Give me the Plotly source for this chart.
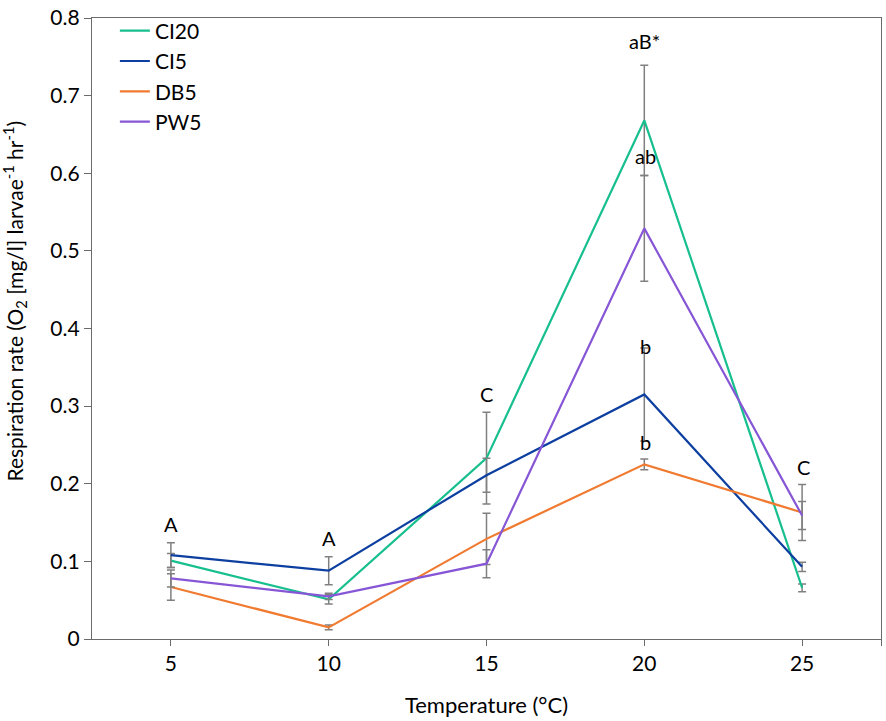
import plotly.graph_objects as go

temperature = [5, 10, 15, 20, 25]

ci20 = [0.101, 0.051, 0.233, 0.668, 0.066]
ci20_err = [0.009, 0.006, 0.059, 0.071, 0.005]

ci5 = [0.108, 0.088, 0.211, 0.315, 0.093]
ci5_err = [0.016, 0.018, 0.022, 0.060, 0.006]

db5 = [0.067, 0.015, 0.129, 0.225, 0.163]
db5_err = [0.017, 0.003, 0.033, 0.007, 0.036]

pw5 = [0.078, 0.055, 0.097, 0.529, 0.159]
pw5_err = [0.011, 0.004, 0.018, 0.068, 0.018]

series_names = ["CI20", "CI5", "DB5", "PW5"]
series_vals = [ci20, ci5, db5, pw5]
series_errs = [ci20_err, ci5_err, db5_err, pw5_err]
series_colors = ["#17BF8E", "#0D3FA0", "#F07A30", "#8656D6"]

y_ticks = [0, 0.1, 0.2, 0.3, 0.4, 0.5, 0.6, 0.7, 0.8]
y_tick_labels = ["0", "0.1", "0.2", "0.3", "0.4", "0.5", "0.6", "0.7", "0.8"]

# significance letters: (x, y, text)
sig_labels = [
    (5, 0.148, "A"),
    (10, 0.130, "A"),
    (15, 0.315, "C"),
    (20, 0.770, "aB*"),
    (20.05, 0.622, "ab"),
    (20.05, 0.378, "b"),
    (20.05, 0.254, "b"),
    (25.05, 0.222, "C"),
]

FONT = "Lato, Carlito, 'Open Sans', sans-serif"

fig = go.Figure()
for name, vals, errs, col in zip(series_names, series_vals, series_errs, series_colors):
    fig.add_trace(go.Scatter(
        x=temperature, y=vals, name=name, mode="lines",
        line=dict(color=col, width=2.2),
        error_y=dict(type="data", array=errs, visible=True,
                     color="#808080", thickness=1.5, width=4),
    ))

for x, y, t in sig_labels:
    fig.add_annotation(x=x, y=y, text=t, showarrow=False,
                       font=dict(size=20, color="black", family=FONT),
                       xanchor="center", yanchor="middle")

# y-axis title as rotated annotation
fig.add_annotation(
    xref="paper", yref="paper", x=-0.0985, y=0.25,
    xanchor="center", yanchor="bottom", textangle=-90, showarrow=False,
    text="Respiration rate (O<sub>2</sub> [mg/l] larvae<sup>-1</sup> hr<sup>-1</sup>)",
    font=dict(size=21, family=FONT, color="black"),
)

axis_col = "#6b6b6b"
fig.update_layout(
    width=886, height=721,
    paper_bgcolor="white", plot_bgcolor="white",
    margin=dict(l=92, r=4, t=12, b=82),
    font=dict(family=FONT, size=20, color="black"),
    showlegend=True,
    legend=dict(x=0.029, y=1.012, xanchor="left", yanchor="top",
                bgcolor="rgba(0,0,0,0)", font=dict(size=21, family=FONT),
                itemwidth=30, tracegroupgap=0),
    xaxis=dict(
        range=[2.5, 27.5],
        tickvals=temperature + [27.5],
        ticktext=[str(t) for t in temperature] + [""],
        ticks="outside", ticklen=6, tickcolor=axis_col, tickwidth=1.3,
        showline=True, linecolor=axis_col, linewidth=1.3, mirror=True,
        showgrid=False, zeroline=False,
        tickfont=dict(size=21, family=FONT),
        title=dict(text="Temperature (°C)", font=dict(size=22, family=FONT), standoff=23),
    ),
    yaxis=dict(
        range=[0, 0.8],
        tickvals=y_ticks,
        ticktext=y_tick_labels,
        ticklabeloverflow="allow",
        ticks="outside", ticklen=7, tickcolor=axis_col, tickwidth=1.3,
        showline=True, linecolor=axis_col, linewidth=1.3, mirror=True,
        showgrid=False, zeroline=False,
        tickfont=dict(size=21, family=FONT),
    ),
)

fig.write_html("out.html", config={"displayModeBar": False},
               post_script="document.body.style.margin='0';")
